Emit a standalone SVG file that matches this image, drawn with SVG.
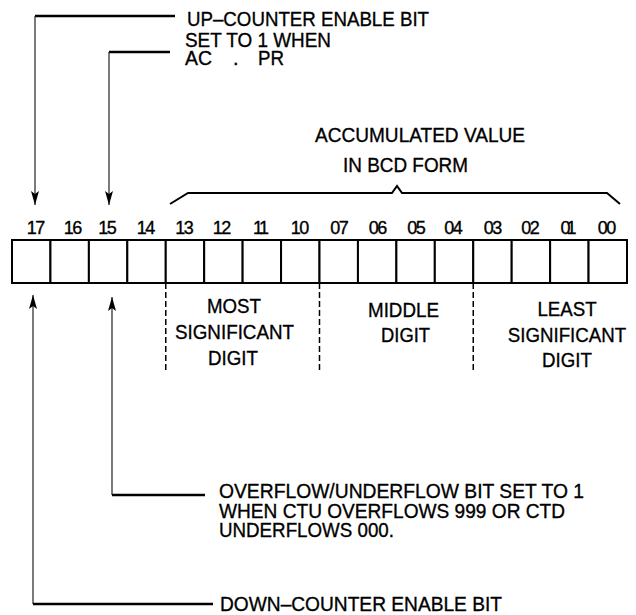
<svg xmlns="http://www.w3.org/2000/svg" width="636" height="615" viewBox="0 0 636 615">
<style>
text{font-family:"Liberation Sans",Arial,sans-serif;fill:#000;stroke:#000;stroke-width:0.35;}
.lb{font-size:21px;}
.sm{font-size:20px;}
.num{font-size:18px;text-anchor:middle;}
.mid{text-anchor:middle;}
.lead{stroke:#000;stroke-width:2.5;fill:none;}
.vert{stroke:#222;stroke-width:1.2;fill:none;}
.cell{fill:#fff;stroke:#000;stroke-width:2;}
.dash{stroke:#000;stroke-width:1.5;stroke-dasharray:6 3;fill:none;}
.brace{stroke:#000;stroke-width:2;fill:none;}
</style>
<defs>
<marker id="arr" viewBox="0 0 14 8" refX="14" refY="4" markerWidth="14" markerHeight="8" orient="auto" markerUnits="userSpaceOnUse">
<path d="M0,0 L14,4 L0,8 L3,4 Z" fill="#000"/>
</marker>
</defs>

<g id="connectors">
<path class="lead" d="M35,16 H175"/>
<path class="vert" d="M35,16 V205" marker-end="url(#arr)"/>
<path class="lead" d="M109,52 H170"/>
<path class="vert" d="M109,52 V205" marker-end="url(#arr)"/>
<path class="vert" d="M112,495 V297" marker-end="url(#arr)"/>
<path class="lead" d="M112,495 H205"/>
<path class="vert" d="M33,604 V295" marker-end="url(#arr)"/>
<path class="lead" d="M33,604 H213"/>
<path class="brace" d="M170,204 L188,193 H392 L397,186 L402,193 H607 L620,204"/>
<path class="dash" d="M165.75,283 V370"/>
<path class="dash" d="M319.5,283 V370"/>
<path class="dash" d="M473.25,283 V370"/>
</g>

<g id="register">
<rect class="cell" x="12" y="240" width="38.44" height="43"/>
<rect class="cell" x="50.44" y="240" width="38.44" height="43"/>
<rect class="cell" x="88.88" y="240" width="38.44" height="43"/>
<rect class="cell" x="127.31" y="240" width="38.44" height="43"/>
<rect class="cell" x="165.75" y="240" width="38.44" height="43"/>
<rect class="cell" x="204.19" y="240" width="38.44" height="43"/>
<rect class="cell" x="242.63" y="240" width="38.44" height="43"/>
<rect class="cell" x="281.06" y="240" width="38.44" height="43"/>
<rect class="cell" x="319.5" y="240" width="38.44" height="43"/>
<rect class="cell" x="357.94" y="240" width="38.44" height="43"/>
<rect class="cell" x="396.38" y="240" width="38.44" height="43"/>
<rect class="cell" x="434.81" y="240" width="38.44" height="43"/>
<rect class="cell" x="473.25" y="240" width="38.44" height="43"/>
<rect class="cell" x="511.69" y="240" width="38.44" height="43"/>
<rect class="cell" x="550.13" y="240" width="38.44" height="43"/>
<rect class="cell" x="588.56" y="240" width="38.44" height="43"/>
</g>

<g id="bit-numbers">
<text class="num" x="36" y="234" textLength="18.5">17</text>
<text class="num" x="73" y="234" textLength="18.5">16</text>
<text class="num" x="107.5" y="234" textLength="18.5">15</text>
<text class="num" x="146" y="234" textLength="18.5">14</text>
<text class="num" x="184.5" y="234" textLength="18.5">13</text>
<text class="num" x="222" y="234" textLength="18.5">12</text>
<text class="num" x="261" y="234" textLength="16">11</text>
<text class="num" x="300" y="234" textLength="18.5">10</text>
<text class="num" x="339.5" y="234" textLength="18.5">07</text>
<text class="num" x="378" y="234" textLength="18.5">06</text>
<text class="num" x="416.5" y="234" textLength="18.5">05</text>
<text class="num" x="453.5" y="234" textLength="18.5">04</text>
<text class="num" x="493" y="234" textLength="18.5">03</text>
<text class="num" x="530.5" y="234" textLength="18.5">02</text>
<text class="num" x="568.5" y="234" textLength="16">01</text>
<text class="num" x="607" y="234" textLength="18.5">00</text>
</g>

<g id="up-counter-label">
<text class="lb" x="187" y="25.5" textLength="242" lengthAdjust="spacingAndGlyphs">UP–COUNTER ENABLE BIT</text>
</g>

<g id="set-label">
<text class="sm"><tspan x="185" y="47" textLength="146" lengthAdjust="spacingAndGlyphs">SET TO 1 WHEN</tspan><tspan x="185" y="64.5" textLength="27" lengthAdjust="spacingAndGlyphs">AC</tspan><tspan x="233" y="64.5">.</tspan><tspan x="258" y="64.5" textLength="26" lengthAdjust="spacingAndGlyphs">PR</tspan></text>
</g>

<g id="accumulated-label">
<text class="lb"><tspan x="315" y="141.5" textLength="210" lengthAdjust="spacingAndGlyphs">ACCUMULATED VALUE</tspan><tspan x="343" y="171.5" textLength="125" lengthAdjust="spacingAndGlyphs">IN BCD FORM</tspan></text>
</g>

<g id="most-significant">
<text class="lb"><tspan x="207" y="313" textLength="54" lengthAdjust="spacingAndGlyphs">MOST</tspan><tspan x="175" y="339" textLength="119" lengthAdjust="spacingAndGlyphs">SIGNIFICANT</tspan><tspan x="208" y="365" textLength="50" lengthAdjust="spacingAndGlyphs">DIGIT</tspan></text>
</g>

<g id="middle-digit">
<text class="lb"><tspan x="368" y="317" textLength="71" lengthAdjust="spacingAndGlyphs">MIDDLE</tspan><tspan x="381" y="342" textLength="49" lengthAdjust="spacingAndGlyphs">DIGIT</tspan></text>
</g>

<g id="least-significant" transform="translate(567,0) scale(0.89,1)">
<text class="lb mid"><tspan x="0" y="316">LEAST</tspan><tspan x="0" y="342">SIGNIFICANT</tspan><tspan x="0" y="367">DIGIT</tspan></text>
</g>

<g id="overflow-label">
<text class="lb"><tspan x="219" y="498" textLength="365" lengthAdjust="spacingAndGlyphs">OVERFLOW/UNDERFLOW BIT SET TO 1</tspan><tspan x="219" y="518" textLength="346" lengthAdjust="spacingAndGlyphs">WHEN CTU OVERFLOWS 999 OR CTD</tspan><tspan x="219" y="537" textLength="175" lengthAdjust="spacingAndGlyphs">UNDERFLOWS 000.</tspan></text>
</g>

<g id="down-counter-label">
<text class="lb" x="220" y="611" textLength="282" lengthAdjust="spacingAndGlyphs">DOWN–COUNTER ENABLE BIT</text>
</g>
</svg>
